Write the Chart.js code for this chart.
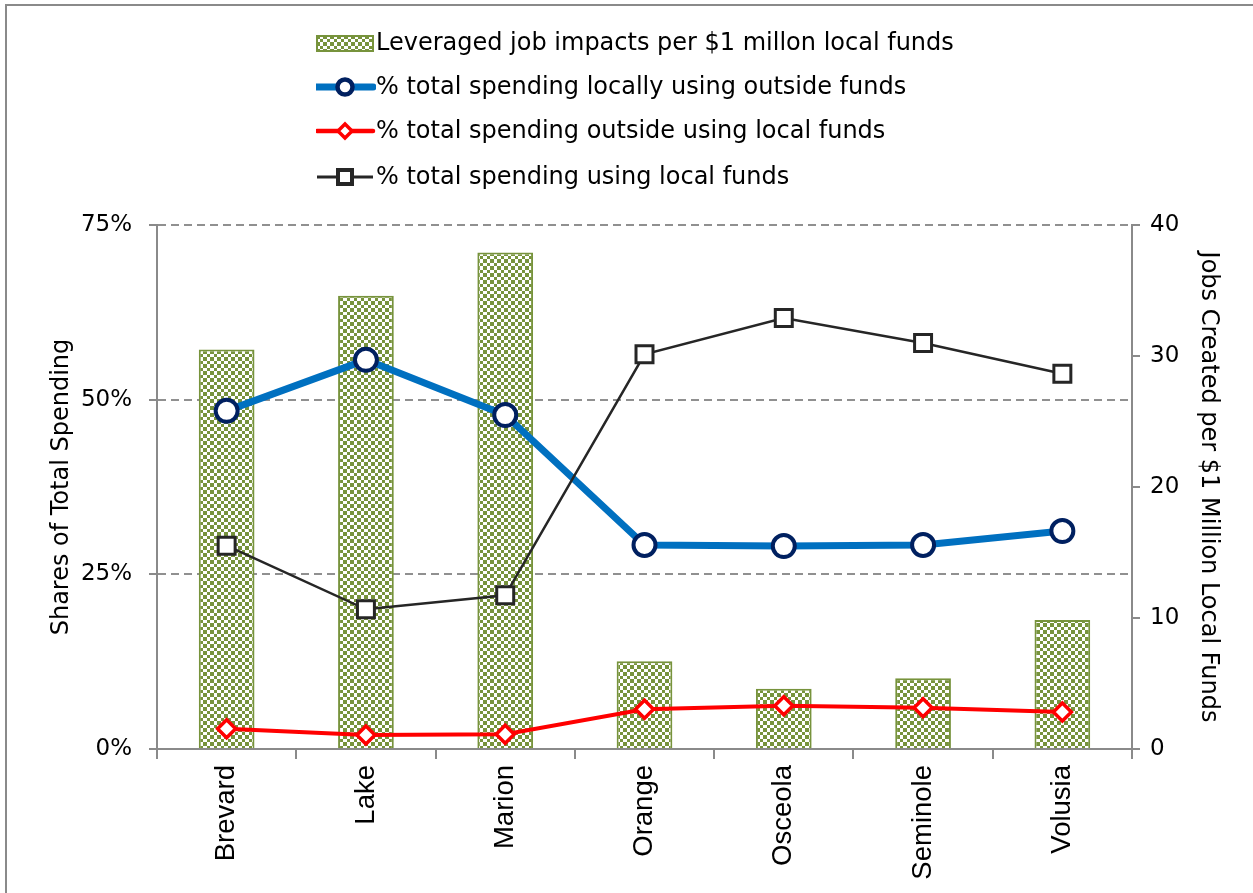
<!DOCTYPE html>
<html>
<head>
<meta charset="utf-8">
<script src="https://cdn.jsdelivr.net/npm/chart.js@4/dist/chart.umd.min.js"></script>
<style>
  html, body { margin: 0; padding: 0; background: #fff; }
  #wrap { position: relative; width: 1253px; height: 893px; overflow: hidden; }
  #frame { position: absolute; left: 5px; top: 4px; width: 1300px; height: 1000px;
           border-left: 2px solid #8a8a8a; border-top: 2px solid #8a8a8a; }
  canvas { position: absolute; left: 0; top: 0; }
  .leg { position: absolute; left: 316px; height: 30px; font: 24px "DejaVu Sans", Verdana, sans-serif; color: #000; white-space: nowrap; }
  .leg svg { position: absolute; left: 0; top: 0; }
  .leg span { position: absolute; left: 60px; top: 0px; }
</style>
</head>
<body>
<div id="wrap">
  <canvas id="chart" width="1253" height="893"></canvas>
  <div id="frame"></div>
  <div id="legend"></div>
</div>
<script>
const counties = ['Brevard', 'Lake', 'Marion', 'Orange', 'Osceola', 'Seminole', 'Volusia'];
const jobsPerMillion = [30.5, 34.6, 37.9, 6.7, 4.6, 5.4, 9.85];
const localOutside = [48.4, 55.7, 47.8, 29.2, 29.05, 29.2, 31.2];
const outsideLocal = [2.9, 2.0, 2.1, 5.7, 6.2, 5.9, 5.3];
const totalLocal = [29.1, 20.0, 22.0, 56.5, 61.7, 58.1, 53.7];
const leftTicks = [0, 25, 50, 75];
const rightTicks = [0, 10, 20, 30, 40];

const seriesNames = [
  'Leveraged job impacts per $1 millon local funds',
  '% total spending locally using outside funds',
  '% total spending outside using local funds',
  '% total spending using local funds'
];

const green = '#77933c';
const gray = '#8a8a8a';

// checkerboard fill like the excel pattern
function checker() {
  const c = document.createElement('canvas');
  c.width = 7; c.height = 7;
  const g = c.getContext('2d');
  g.fillStyle = '#fff';
  g.fillRect(0, 0, 7, 7);
  g.fillStyle = green;
  g.fillRect(0, 0, 4, 4);
  g.fillRect(4, 4, 3, 3);
  return c;
}
const pattern = document.getElementById('chart').getContext('2d').createPattern(checker(), 'repeat');

// legend (html, one entry per line)
const legendRows = [
  { y: 28, svg: '<rect x="1" y="8" width="56" height="15" fill="url(#chk)" stroke="' + green + '" stroke-width="2"/>' },
  { y: 72, svg: '<line x1="1" y1="15" x2="57" y2="15" stroke="#0070c0" stroke-width="7" stroke-linecap="round"/><circle cx="29" cy="15" r="7.5" fill="#fff" stroke="#002060" stroke-width="4.5"/>' },
  { y: 116, svg: '<line x1="1" y1="15" x2="57" y2="15" stroke="#ff0000" stroke-width="4.5" stroke-linecap="round"/><polygon points="29,8 36,15 29,22 22,15" fill="#fff" stroke="#ff0000" stroke-width="3.5"/>' },
  { y: 162, svg: '<line x1="1" y1="15" x2="57" y2="15" stroke="#262626" stroke-width="3"/><rect x="22" y="8" width="14" height="14" fill="#fff" stroke="#262626" stroke-width="4"/>' }
];
const defs = '<defs><pattern id="chk" width="7" height="7" patternUnits="userSpaceOnUse"><rect width="7" height="7" fill="#fff"/><rect width="4" height="4" fill="' + green + '"/><rect x="4" y="4" width="3" height="3" fill="' + green + '"/></pattern></defs>';
document.getElementById('legend').innerHTML = legendRows.map((r, i) =>
  '<div class="leg" style="top:' + r.y + 'px"><svg width="60" height="30">' + defs + r.svg + '</svg><span>' + seriesNames[i] + '</span></div>'
).join('');

const tickFont = { family: '"DejaVu Sans", Verdana, sans-serif', size: 23 };
const titleFont = { family: '"DejaVu Sans", Verdana, sans-serif', size: 24 };

new Chart(document.getElementById('chart'), {
  data: {
    labels: counties,
    datasets: [
      {
        type: 'line',
        label: seriesNames[3],
        data: totalLocal,
        yAxisID: 'y',
        borderColor: '#262626',
        borderWidth: 2.5,
        pointStyle: 'rect',
        pointRadius: 12,
        pointBorderWidth: 3,
        pointBackgroundColor: '#fff',
        pointBorderColor: '#262626',
        order: 0
      },
      {
        type: 'line',
        label: seriesNames[2],
        data: outsideLocal,
        yAxisID: 'y',
        borderColor: '#ff0000',
        borderWidth: 4,
        pointStyle: 'rectRot',
        pointRadius: 9,
        pointBorderWidth: 3.5,
        pointBackgroundColor: '#fff',
        pointBorderColor: '#ff0000',
        order: 1
      },
      {
        type: 'line',
        label: seriesNames[1],
        data: localOutside,
        yAxisID: 'y',
        borderColor: '#0070c0',
        borderWidth: 7,
        pointStyle: 'circle',
        pointRadius: 11,
        pointBorderWidth: 4,
        pointBackgroundColor: '#fff',
        pointBorderColor: '#002060',
        order: 2
      },
      {
        type: 'bar',
        label: seriesNames[0],
        data: jobsPerMillion,
        yAxisID: 'y2',
        backgroundColor: pattern,
        borderColor: green,
        borderWidth: 2,
        categoryPercentage: 1,
        barPercentage: 0.4,
        order: 3
      }
    ]
  },
  options: {
    responsive: false,
    animation: false,
    layout: { padding: { top: 225, left: 7, right: 0, bottom: 0 } },
    plugins: { legend: { display: false }, tooltip: { enabled: false } },
    scales: {
      x: {
        offset: true,
        afterFit: s => { s.height = 144; },
        grid: { offset: true, drawOnChartArea: false, color: gray, lineWidth: 2, tickLength: 10 },
        border: { color: gray, width: 2 },
        ticks: {
          color: '#000',
          minRotation: 90, maxRotation: 90,
          padding: 6,
          font: { family: '"Liberation Sans", Arial, sans-serif', size: 27.5 }
        }
      },
      y: {
        position: 'left',
        min: 0, max: 75,
        afterFit: s => { s.width = 150; },
        afterBuildTicks: s => { s.ticks = leftTicks.map(v => ({ value: v })); },
        grid: {
          color: c => c.tick && c.tick.value === 0 ? 'rgba(0,0,0,0)' : '#909090',
          tickColor: gray,
          lineWidth: 2,
          tickBorderDash: [],
          tickLength: 8
        },
        border: { color: gray, width: 2, dash: [8, 5] },
        ticks: { color: '#000', padding: 17, font: tickFont, callback: v => v + '%' },
        title: { display: true, text: 'Shares of Total Spending', color: '#000', font: titleFont, padding: { top: 40 } }
      },
      y2: {
        position: 'right',
        min: 0, max: 40,
        afterFit: s => { s.width = 121; },
        afterBuildTicks: s => { s.ticks = rightTicks.map(v => ({ value: v })); },
        grid: { drawOnChartArea: false, color: gray, lineWidth: 2, tickLength: 8 },
        border: { color: gray, width: 2 },
        ticks: { color: '#000', padding: 10, font: tickFont },
        title: { display: true, text: 'Jobs Created per $1 Million Local Funds', color: '#000', font: titleFont, padding: { top: 30 } }
      }
    }
  }
});
</script>
</body>
</html>
